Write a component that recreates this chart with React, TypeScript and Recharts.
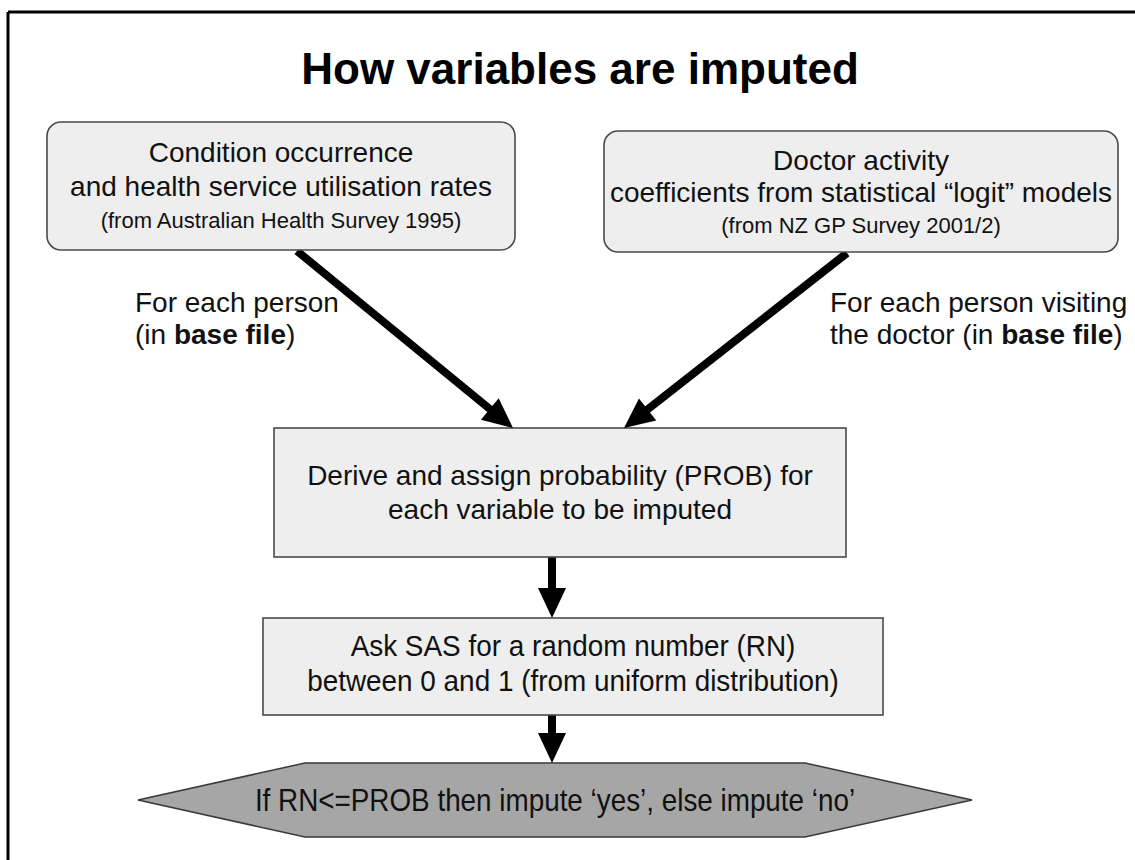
import { ScatterChart, Scatter, XAxis, YAxis, ReferenceLine } from 'recharts'

const W = 1135
const H = 860
const FONT = '"Liberation Sans", Arial, sans-serif'

// texts of the flow
const titleText = ['How variables are imputed']
const leftSource = ['Condition occurrence', 'and health service utilisation rates', '(from Australian Health Survey 1995)']
const rightSource = ['Doctor activity', 'coefficients from statistical “logit” models', '(from NZ GP Survey 2001/2)']
const probStep = ['Derive and assign probability (PROB) for', 'each variable to be imputed']
const rnStep = ['Ask SAS for a random number (RN)', 'between 0 and 1 (from uniform distribution)']
const decisionText = ['If RN<=PROB then impute ‘yes’, else impute ‘no’']
// [text, bold] runs per line
const leftLabel: [string, boolean][][] = [[['For each person', false]], [['(in ', false], ['base file', true], [')', false]]]
const rightLabel: [string, boolean][][] = [[['For each person visiting', false]], [['the doctor (in ', false], ['base file', true], [')', false]]]

// layout, in page pixels (x from left, y from top)
const boxes = [
  { x: 281, y: 186, w: 468, h: 128, round: true, lines: leftSource, base: [40, 74, 106], size: [28, 28, 22], sx: 1 },
  { x: 861, y: 191.5, w: 514, h: 121, round: true, lines: rightSource, base: [39, 71, 102], size: [28, 28, 22], sx: 1 },
  { x: 560, y: 492.5, w: 572, h: 129, round: false, lines: probStep, base: [57, 91], size: [28, 28], sx: 1 },
  { x: 573, y: 666.5, w: 620, h: 97, round: false, lines: rnStep, base: [38, 73], size: [30, 30], sx: 0.93 },
]
const hexes = [{ x: 555, y: 800, w: 834, h: 74, slant: 167, lines: decisionText, size: 32, sx: 0.87 }]
const titles = [{ x: 580, y: 84, lines: titleText }]
const labels = [
  { x: 135, y: 312, lines: leftLabel },
  { x: 830, y: 312, lines: rightLabel },
]
const arrows = [
  { from: { x: 297, y: 251 }, to: { x: 513, y: 428 } },
  { from: { x: 847, y: 253 }, to: { x: 624, y: 428 } },
  { from: { x: 552, y: 557 }, to: { x: 552, y: 618 } },
  { from: { x: 552, y: 715 }, to: { x: 552, y: 763 } },
]
const HEAD = 30
const HALF = 14

const arrowLines = arrows.map((a) => {
  const dx = a.to.x - a.from.x
  const dy = a.to.y - a.from.y
  const len = Math.sqrt(dx * dx + dy * dy)
  const k = (len - HEAD + 2) / len
  return [a.from, { x: a.from.x + dx * k, y: a.from.y + dy * k }]
})
const arrowHeads = arrows.map((a) => ({
  x: a.to.x,
  y: a.to.y,
  angle: (Math.atan2(a.to.y - a.from.y, a.to.x - a.from.x) * 180) / Math.PI,
}))

const BoxShape = (props: any) => {
  const { cx, cy, payload: p } = props
  const left = cx - p.w / 2
  const top = cy - p.h / 2
  return (
    <g>
      <rect x={left} y={top} width={p.w} height={p.h} rx={p.round ? 14 : 0} fill="#eeeeee" stroke="#4a4a4a" strokeWidth={1.6} />
      {p.lines.map((t: string, i: number) => (
        <g key={i} transform={`translate(${cx},${top + p.base[i]}) scale(${p.sx},1)`}>
          <text x={0} y={0} textAnchor="middle" fontFamily={FONT} fontSize={p.size[i]} fill="#111">{t}</text>
        </g>
      ))}
    </g>
  )
}

const HexShape = (props: any) => {
  const { cx, cy, payload: p } = props
  const l = cx - p.w / 2
  const r = cx + p.w / 2
  const t = cy - p.h / 2
  const b = cy + p.h / 2
  const pts = [[l, cy], [l + p.slant, t], [r - p.slant, t], [r, cy], [r - p.slant, b], [l + p.slant, b]]
  return (
    <g>
      <polygon points={pts.map((q) => q.join(',')).join(' ')} fill="#a6a6a6" stroke="#3a3a3a" strokeWidth={1.6} />
      <g transform={`translate(${cx},${cy + 11}) scale(${p.sx},1)`}>
        <text x={0} y={0} textAnchor="middle" fontFamily={FONT} fontSize={p.size} fill="#111">{p.lines[0]}</text>
      </g>
    </g>
  )
}

const TitleShape = (props: any) => {
  const { cx, cy, payload: p } = props
  return (
    <text x={cx} y={cy} textAnchor="middle" fontFamily={FONT} fontSize={44} fontWeight="bold" fill="#000">{p.lines[0]}</text>
  )
}

const LabelShape = (props: any) => {
  const { cx, cy, payload: p } = props
  return (
    <g>
      {p.lines.map((runs: [string, boolean][], i: number) => (
        <text key={i} x={cx} y={cy + i * 32} fontFamily={FONT} fontSize={28} fill="#111" style={{ whiteSpace: 'pre' }}>
          {runs.map(([s, bold], j) => (
            <tspan key={j} fontWeight={bold ? 'bold' : 'normal'}>{s}</tspan>
          ))}
        </text>
      ))}
    </g>
  )
}

const HeadShape = (props: any) => {
  const { cx, cy, payload: p } = props
  return (
    <polygon
      points={`0,0 ${-HEAD},${-HALF} ${-HEAD},${HALF}`}
      transform={`translate(${cx},${cy}) rotate(${p.angle})`}
      fill="#000"
    />
  )
}

export default function App() {
  return (
    <div style={{ position: 'absolute', left: 0, top: 0, background: '#fff' }}>
      <ScatterChart width={W} height={H} margin={{ top: 0, right: 0, bottom: 0, left: 0 }}>
        <XAxis type="number" dataKey="x" domain={[0, W]} hide />
        <YAxis type="number" dataKey="y" domain={[0, H]} reversed hide />
        {/* frame */}
        <ReferenceLine segment={[{ x: 8, y: 12 }, { x: 8, y: H }]} stroke="#000" strokeWidth={3} />
        <ReferenceLine segment={[{ x: 8, y: 12 }, { x: W, y: 12 }]} stroke="#000" strokeWidth={3} />
        {arrowLines.map((seg, i) => (
          <ReferenceLine key={i} segment={seg} stroke="#000" strokeWidth={8} />
        ))}
        <Scatter data={titles} shape={TitleShape} isAnimationActive={false} />
        <Scatter data={labels} shape={LabelShape} isAnimationActive={false} />
        <Scatter data={boxes} shape={BoxShape} isAnimationActive={false} />
        <Scatter data={hexes} shape={HexShape} isAnimationActive={false} />
        <Scatter data={arrowHeads} shape={HeadShape} isAnimationActive={false} />
      </ScatterChart>
    </div>
  )
}
